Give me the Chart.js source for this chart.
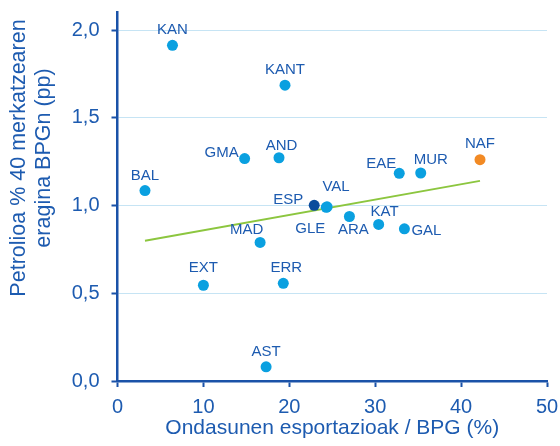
<!DOCTYPE html>
<html>
<head>
<meta charset="utf-8">
<script src="https://cdn.jsdelivr.net/npm/chart.js@4"></script>
<style>
  html, body { margin: 0; padding: 0; background: #ffffff; }
  #wrap { width: 560px; height: 446px; position: relative; }
</style>
</head>
<body>
<div id="wrap"><canvas id="c" width="560" height="446"></canvas></div>
<script>
// ---- data ----
const regions = ["KAN","KANT","GMA","AND","BAL","EAE","MUR","NAF","ESP","GLE","VAL","ARA","KAT","GAL","MAD","EXT","ERR","AST"];
const exportsGDP = [6.4, 19.5, 14.8, 18.8, 3.2, 32.8, 35.3, 42.2, 22.9, 24.3, 24.4, 27.0, 30.4, 33.4, 16.6, 10.0, 19.3, 17.3];
const oilImpact  = [1.914, 1.687, 1.268, 1.273, 1.086, 1.184, 1.186, 1.262, 1.002, 0.99, 0.993, 0.938, 0.893, 0.868, 0.79, 0.546, 0.557, 0.081];
const trendX = [3.2, 42.2];
const trendY = [0.80, 1.141];
const xTicks = [0, 10, 20, 30, 40, 50];
const yTicks = [0, 0.5, 1.0, 1.5, 2.0];
const xTitle = 'Ondasunen esportazioak / BPG (%)';
const yTitle = ['Petrolioa % 40 merkatzearen', 'eragina BPGn (pp)'];

// ---- styles ----
const AXIS = '#1a52a8';
const TEXT = '#1d5bb0';
const DOT = '#0aa0e0';
const FONT = '"Liberation Sans", Arial, sans-serif';
const colorFor = r => r === 'ESP' ? '#0b4c9c' : (r === 'NAF' ? '#f28a24' : DOT);
// label placement per region: [dx, dy, align]
const labelPos = {
  KAN: [0, -15, 'center'], KANT: [0, -15, 'center'], GMA: [-6, -6, 'right'],
  AND: [2.5, -12, 'center'], BAL: [0, -15, 'center'], EAE: [-3, -9, 'right'],
  MUR: [10, -13, 'center'], NAF: [0, -16, 'center'], ESP: [-11, -5.5, 'right'],
  GLE: [-16, 21, 'center'], VAL: [9, -20, 'center'], ARA: [4, 13, 'center'],
  KAT: [6, -13, 'center'], GAL: [7, 2, 'left'], MAD: [-13.5, -12.5, 'center'],
  EXT: [0, -17, 'center'], ERR: [3, -15, 'center'], AST: [0, -15, 'center']
};

const points = regions.map((r, i) => ({ x: exportsGDP[i], y: oilImpact[i], label: r }));

const labelPlugin = {
  id: 'pointLabels',
  afterDatasetsDraw(chart) {
    const meta = chart.getDatasetMeta(1);
    const ctx = chart.ctx;
    ctx.save();
    ctx.font = '15px ' + FONT;
    ctx.fillStyle = TEXT;
    ctx.textBaseline = 'middle';
    meta.data.forEach((el, i) => {
      const r = regions[i];
      const p = labelPos[r];
      ctx.textAlign = p[2];
      ctx.fillText(r, el.x + p[0], el.y + p[1]);
    });
    ctx.restore();
  }
};

// y-axis title (two lines, rotated, centred a bit above the plot middle as in the original)
const yTitlePlugin = {
  id: 'yTitle',
  afterDraw(chart) {
    const ctx = chart.ctx;
    const lineX = [19.5, 44];
    ctx.save();
    ctx.font = '21.5px ' + FONT;
    ctx.fillStyle = TEXT;
    ctx.textAlign = 'center';
    ctx.textBaseline = 'middle';
    yTitle.forEach((line, i) => {
      ctx.save();
      ctx.translate(lineX[i], 158);
      ctx.rotate(-Math.PI / 2);
      ctx.fillText(line, 0, 0);
      ctx.restore();
    });
    ctx.restore();
  }
};

new Chart(document.getElementById('c'), {
  data: {
    datasets: [
      {
        type: 'line',
        data: trendX.map((x, i) => ({ x, y: trendY[i] })),
        borderColor: '#8cc63f',
        borderWidth: 2,
        pointRadius: 0,
        fill: false,
        order: 2
      },
      {
        type: 'scatter',
        data: points,
        backgroundColor: regions.map(colorFor),
        borderWidth: 0,
        pointRadius: 5.5,
        order: 1
      }
    ]
  },
  options: {
    responsive: false,
    animation: false,
    devicePixelRatio: 1,
    layout: { padding: { left: 0, right: 13, top: 12.7, bottom: 0 } },
    plugins: { legend: { display: false }, tooltip: { enabled: false } },
    scales: {
      x: {
        type: 'linear',
        min: 0, max: 50,
        afterBuildTicks: s => { s.ticks = xTicks.map(v => ({ value: v })); },
        afterFit: s => { s.height = 65; s.paddingLeft = 0; s.paddingRight = 0; },
        border: { color: AXIS, width: 2.5 },
        grid: { drawOnChartArea: false, drawTicks: true, tickLength: 6, tickColor: AXIS, tickWidth: 2 },
        ticks: {
          color: TEXT, padding: 8,
          font: { family: FONT, size: 20 },
          callback: v => String(v)
        },
        title: {
          display: true,
          text: xTitle,
          color: TEXT,
          font: { family: FONT, size: 21 },
          padding: { top: 0, bottom: 5 }
        }
      },
      y: {
        type: 'linear',
        min: 0, max: 2.1,
        afterBuildTicks: s => { s.ticks = yTicks.map(v => ({ value: v })); },
        afterFit: s => { s.width = 117.5; s.paddingTop = 0; s.paddingBottom = 0; },
        border: { color: AXIS, width: 2.5 },
        grid: { color: '#c6e4f4', lineWidth: 1, drawTicks: true, tickLength: 6, tickColor: AXIS, tickWidth: 2 },
        ticks: {
          color: TEXT, padding: 12,
          font: { family: FONT, size: 20 },
          callback: v => v.toFixed(1).replace('.', ',')
        },
        title: { display: false }
      }
    }
  },
  plugins: [labelPlugin, yTitlePlugin]
});
</script>
</body>
</html>
